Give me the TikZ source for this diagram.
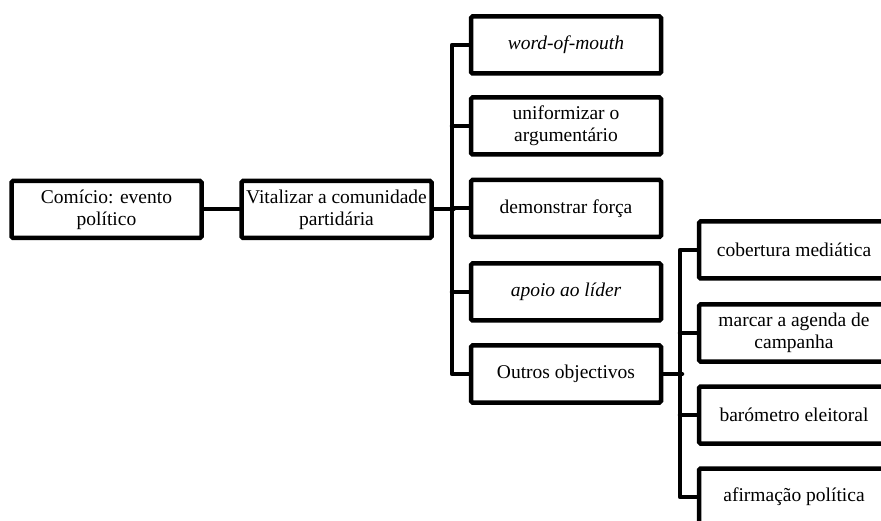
\documentclass[tikz,border=0pt]{standalone}
\usepackage{fontspec}
\setmainfont{Liberation Serif}
\tikzset{
  goalbox/.style={draw, line width=4.5pt, rounded corners=1.5pt, minimum width=190pt,
    minimum height=57pt, align=center, inner sep=2pt,
    font=\fontsize{19.5}{22}\selectfont},
  link/.style={line width=4pt, line cap=round, line join=round}
}
\begin{document}
\begin{tikzpicture}[x=1pt,y=-1pt]
\useasboundingbox (0,0) rectangle (881,521);
\clip (0,0) rectangle (881,521);

\node[goalbox] (comicio) at (106.5,209.5) {Comício: evento\\político};
\node[goalbox] (vital) at (336.5,209.5) {Vitalizar a comunidade\\partidária};

\node[goalbox] (wom) at (566,45) {\itshape word-of-mouth};
\node[goalbox] (unif) at (566,126) {uniformizar o\\argumentário};
\node[goalbox] (demo) at (566,208.5) {demonstrar força};
\node[goalbox] (apoio) at (566,292) {\itshape apoio ao líder};
\node[goalbox] (outros) at (566,374) {Outros objectivos};

\node[goalbox] (cob) at (794,250) {cobertura mediática};
\node[goalbox] (agenda) at (794,333) {marcar a agenda de\\campanha};
\node[goalbox] (barom) at (794,415) {barómetro eleitoral};
\node[goalbox] (afirm) at (794,497) {afirmação política};

\draw[link] (comicio) -- (vital);
\draw[link] (vital.east) -- ++(20,0);
\draw[link] (wom.west) -- ++(-17,0) |- (outros.west);
\draw[link] (unif.west) -- ++(-17,0);
\draw[link] (demo.west) -- ++(-17,0);
\draw[link] (apoio.west) -- ++(-17,0);

\draw[link] (outros.east) -- ++(19,0);
\draw[link] (cob.west) -- ++(-17,0) |- (afirm.west);
\draw[link] (agenda.west) -- ++(-17,0);
\draw[link] (barom.west) -- ++(-17,0);
\end{tikzpicture}
\end{document}
